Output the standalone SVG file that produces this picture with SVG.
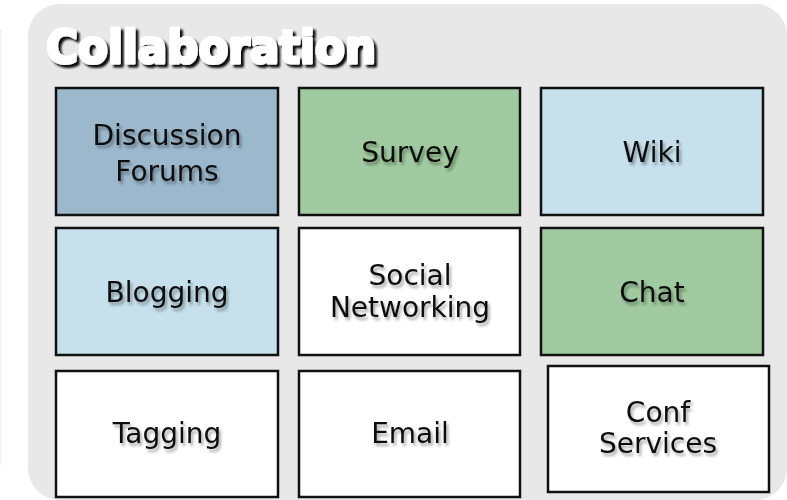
<svg xmlns="http://www.w3.org/2000/svg" width="787" height="500" viewBox="0 0 787 500">
<defs>
<filter id="ts" x="-20%" y="-40%" width="140%" height="180%">
<feDropShadow dx="2" dy="3" stdDeviation="1.6" flood-color="#000" flood-opacity="0.35"/>
</filter>
<filter id="tt" x="-10%" y="-30%" width="120%" height="160%">
<feDropShadow dx="3" dy="3" stdDeviation="1" flood-color="#000" flood-opacity="0.95"/>
</filter>
<style>
.box{stroke:#111;stroke-width:2.5}
.lbl{font-family:"DejaVu Sans","Verdana",sans-serif;font-size:28px;fill:#111;text-anchor:middle;filter:url(#ts)}
.blue{fill:#9cb8cc}.green{fill:#a0cba0}.lblue{fill:#c6e0ec}.white{fill:#fff}
</style>
</defs>
<rect x="0" y="30" width="2" height="435" fill="#f4f4f4"/>
<rect id="panel" x="28" y="4" width="759" height="496" rx="32" fill="#e8e8e8"/>
<g id="title">
<text x="46" y="63" textLength="330" lengthAdjust="spacingAndGlyphs" font-family="DejaVu Sans, sans-serif" font-weight="bold" font-size="46" fill="#fff" stroke="#fff" stroke-width="3" stroke-linejoin="round" filter="url(#tt)">Collaboration</text>
</g>
<g id="connectors"/>
<g id="discussion-forums"><rect class="box blue" x="56" y="88" width="222" height="127"/><text class="lbl" x="167" y="145">Discussion</text><text class="lbl" x="167" y="181">Forums</text></g>
<g id="survey"><rect class="box green" x="299" y="88" width="221" height="127"/><text class="lbl" x="410" y="162">Survey</text></g>
<g id="wiki"><rect class="box lblue" x="541" y="88" width="222" height="127"/><text class="lbl" x="652" y="162">Wiki</text></g>
<g id="blogging"><rect class="box lblue" x="56" y="228" width="222" height="127"/><text class="lbl" x="167" y="302">Blogging</text></g>
<g id="social-networking"><rect class="box white" x="299" y="228" width="221" height="127"/><text class="lbl" x="410" y="285">Social</text><text class="lbl" x="410" y="317">Networking</text></g>
<g id="chat"><rect class="box green" x="541" y="228" width="222" height="127"/><text class="lbl" x="652" y="302">Chat</text></g>
<g id="tagging"><rect class="box white" x="56" y="371" width="222" height="126"/><text class="lbl" x="167" y="443">Tagging</text></g>
<g id="email"><rect class="box white" x="299" y="371" width="221" height="126"/><text class="lbl" x="410" y="443">Email</text></g>
<g id="conf-services"><rect class="box white" x="548" y="366" width="221" height="126"/><text class="lbl" x="658" y="422">Conf</text><text class="lbl" x="658" y="453">Services</text></g>
</svg>
